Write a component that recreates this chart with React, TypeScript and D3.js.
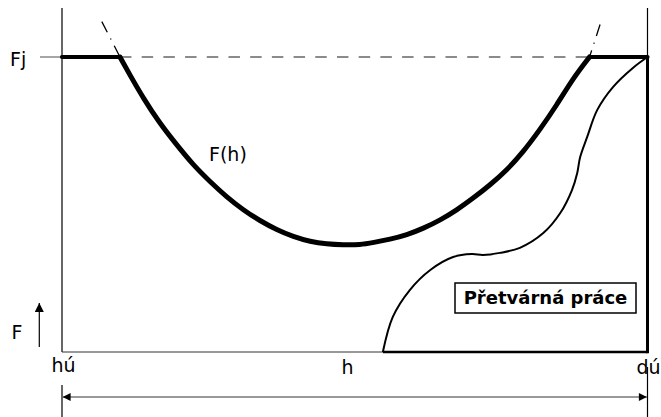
import React from "react";
import * as d3 from "d3";

// Horizontal position h (hú = 0, dú = 100), force F (0 .. Fj = 100)
const hLimits = [0, 100];
const fLimits = [0, 100];
const fj = 100;

// F(h) curve
const curveH = [9.9, 11.6, 13.9, 16.7, 19.6, 22.4, 25.3, 28.1, 31.0, 33.8, 36.7, 39.5, 42.4, 45.2, 48.0, 50.9, 53.2, 56.0, 58.9, 61.7, 64.6, 67.4, 70.2, 73.1, 76.0, 78.8, 81.6, 84.5, 87.3, 90.1];
const curveF = [100, 93.9, 86.0, 77.5, 70.2, 63.4, 57.7, 52.6, 48.1, 44.5, 41.4, 39.1, 37.4, 36.6, 36.3, 36.3, 37.1, 38.2, 39.7, 41.9, 44.7, 48.1, 52.1, 56.6, 61.7, 67.9, 75.3, 83.7, 92.8, 100];

// dash-dot continuation of F(h) above Fj
const extLeftH = [6.8, 9.9];
const extLeftF = [112, 100];
const extRightH = [91.9, 90.1];
const extRightF = [111, 100];

// flat thick parts at Fj
const flatLeftH = [0, 9.9];
const flatRightH = [90.1, 100];

// deformation work boundary
const workH = [100, 97.5, 94.1, 91.4, 89.7, 88.5, 88.0, 87.1, 85.1, 82.2, 78.2, 74.8, 71.9, 70.0, 66.8, 62.9, 59.4, 56.5, 54.8];
const workF = [100, 96.3, 89.8, 82.0, 72.9, 66.1, 60.7, 54.9, 47.1, 40.3, 35.3, 33.6, 32.9, 33.2, 32.2, 27.8, 21.0, 11.9, 0];

const labels = { fj: "Fj", fh: "F(h)", f: "F", hu: "hú", du: "dú", h: "h", work: "Přetvárná práce" };

const W = 661;
const H = 417;

export default function App() {
  const x = d3.scaleLinear().domain(hLimits).range([62, 647.5]);
  const y = d3.scaleLinear().domain(fLimits).range([352, 57]);

  const pts = (hs: number[], fs: number[]) => hs.map((h, i) => [x(h), y(fs[i])] as [number, number]);
  const basis = d3.line().curve(d3.curveBasis);
  const smooth = d3.line().curve(d3.curveCatmullRom.alpha(0.5));
  const straight = d3.line();

  const mainPath = basis(pts(curveH, curveF)) as string;
  const workPath = smooth(pts(workH, workF)) as string;
  const font = "'DejaVu Sans', Verdana, sans-serif";

  const x0 = x(hLimits[0]);
  const x1 = x(hLimits[1]);
  const yTop = 8;
  const yBot = y(0);
  const dimY = 397;
  const workStart = workH[workH.length - 1];

  return (
    <div style={{ position: "absolute", left: 0, top: 0 }}>
      <svg width={W} height={H} viewBox={`0 0 ${W} ${H}`} style={{ display: "block", background: "#fff" }}>
        <defs>
          <marker id="ah" viewBox="0 0 10 10" refX="10" refY="5" markerWidth="12" markerHeight="8" markerUnits="userSpaceOnUse" orient="auto-start-reverse">
            <path d="M0,0 L10,5 L0,10 z" fill="#000" />
          </marker>
          <marker id="ahv" viewBox="0 0 10 10" refX="10" refY="5" markerWidth="12" markerHeight="9" markerUnits="userSpaceOnUse" orient="auto">
            <path d="M0,0 L10,5 L0,10 z" fill="#000" />
          </marker>
        </defs>

        {/* frame: thin axes */}
        <line x1={x0} y1={yTop} x2={x0} y2={yBot} stroke="#000" strokeWidth={1.2} />
        <line x1={x1} y1={yTop} x2={x1} y2={y(fj)} stroke="#000" strokeWidth={1.2} />
        <line x1={x0} y1={yBot} x2={x(workStart)} y2={yBot} stroke="#333" strokeWidth={1.2} />

        {/* Fj reference */}
        <line x1={40} y1={y(fj)} x2={x0} y2={y(fj)} stroke="#888" strokeWidth={1.5} />
        <line x1={x(flatLeftH[1])} y1={y(fj)} x2={x(flatRightH[0])} y2={y(fj)} stroke="#666" strokeWidth={1.5} strokeDasharray="11.5 10.2" />

        {/* dash-dot continuations */}
        <path d={straight(pts(extLeftH, extLeftF)) as string} fill="none" stroke="#000" strokeWidth={1.3} strokeDasharray="12 7 1.2 7 12" />
        <path d={straight(pts(extRightH, extRightF)) as string} fill="none" stroke="#000" strokeWidth={1.3} strokeDasharray="12 7 1.2 7 12" />

        {/* deformation work region */}
        <path d={workPath} fill="none" stroke="#000" strokeWidth={2} />
        <line x1={x(workStart)} y1={yBot} x2={x1} y2={yBot} stroke="#000" strokeWidth={2.6} />
        <line x1={x1} y1={yBot + 1.3} x2={x1} y2={y(fj)} stroke="#000" strokeWidth={3} />

        {/* F(h) */}
        <line x1={x(flatLeftH[0])} y1={y(fj)} x2={x(flatLeftH[1])} y2={y(fj)} stroke="#000" strokeWidth={4.2} strokeLinecap="round" />
        <line x1={x(flatRightH[0])} y1={y(fj)} x2={x(flatRightH[1])} y2={y(fj)} stroke="#000" strokeWidth={4.2} strokeLinecap="round" />
        <path d={mainPath} fill="none" stroke="#000" strokeWidth={5} strokeLinecap="round" strokeLinejoin="round" />

        {/* labels */}
        <text x={10} y={65.5} fontFamily={font} fontSize={19} fill="#000">{labels.fj}</text>
        <text x={209} y={161} fontFamily={font} fontSize={19} fill="#000">{labels.fh}</text>
        <text x={11.5} y={339} fontFamily={font} fontSize={19} fill="#000">{labels.f}</text>
        <line x1={39.3} y1={347} x2={39.3} y2={303} stroke="#000" strokeWidth={1.2} markerEnd="url(#ahv)" />

        <rect x={455} y={283} width={181} height={30} fill="#fff" stroke="#000" strokeWidth={1.5} />
        <text x={545.5} y={304} textAnchor="middle" fontFamily={font} fontSize={18} fontWeight="bold" fill="#000">{labels.work}</text>

        {/* dimension h */}
        <text x={51.5} y={372} fontFamily={font} fontSize={19} fill="#000">{labels.hu}</text>
        <text x={636.5} y={373.5} fontFamily={font} fontSize={19} fill="#000">{labels.du}</text>
        <text x={341.5} y={373.5} fontFamily={font} fontSize={19} fill="#000">{labels.h}</text>
        <line x1={x0} y1={385} x2={x0} y2={H} stroke="#000" strokeWidth={1.2} />
        <line x1={x1} y1={367} x2={x1} y2={H} stroke="#000" strokeWidth={1.2} />
        <line x1={x0 + 0.6} y1={dimY} x2={x1 - 0.6} y2={dimY} stroke="#777" strokeWidth={1.5} markerStart="url(#ah)" markerEnd="url(#ah)" />
      </svg>
    </div>
  );
}
